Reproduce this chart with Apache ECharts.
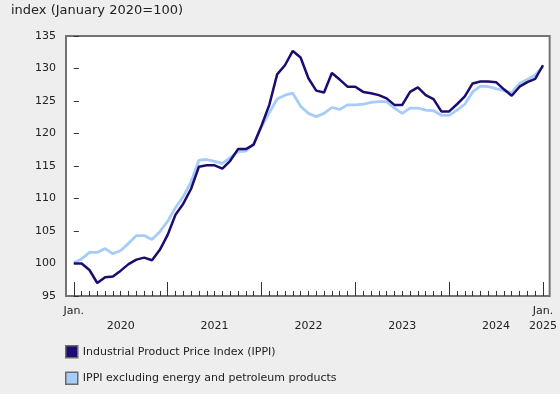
<!DOCTYPE html>
<html>
<head>
<meta charset="utf-8">
<script src="https://cdn.jsdelivr.net/npm/echarts@6/dist/echarts.min.js"></script>
<style>
  html, body { margin: 0; padding: 0; background: #eeeeee; }
  #chart { width: 560px; height: 394px; }
</style>
</head>
<body>
<div id="chart"></div>
<script>
// Monthly, January 2020 to January 2025 (index 0 = Jan. 2020)
const seriesNames = ['Industrial Product Price Index (IPPI)', 'IPPI excluding energy and petroleum products'];

const ippi = [
  100.0, 100.0, 99.0, 97.0, 97.9, 98.0, 98.9, 99.9, 100.6, 100.9, 100.5, 102.1,
  104.4, 107.5, 109.2, 111.5, 114.9, 115.1, 115.1, 114.6, 115.8, 117.6, 117.6, 118.3,
  121.2, 124.4, 129.1, 130.5, 132.7, 131.7, 128.5, 126.6, 126.3, 129.3, 128.3, 127.2,
  127.2, 126.4, 126.2, 125.9, 125.4, 124.4, 124.4, 126.4, 127.1, 125.9, 125.3, 123.4,
  123.4, 124.5, 125.7, 127.7, 128.0, 128.0, 127.9, 126.8, 125.8, 127.2, 127.9, 128.4,
  130.5
];

const ippiExEnergy = [
  100.1, 100.7, 101.7, 101.7, 102.3, 101.5, 102.0, 103.1, 104.3, 104.3, 103.7, 104.9,
  106.5, 108.6, 110.3, 112.6, 115.9, 116.0, 115.7, 115.4, 116.3, 117.2, 117.3, 118.4,
  121.0, 123.2, 125.3, 125.9, 126.2, 124.2, 123.1, 122.6, 123.1, 124.0, 123.7, 124.4,
  124.4, 124.5, 124.8, 124.9, 124.9, 123.9, 123.1, 123.9, 123.9, 123.6, 123.5, 122.8,
  122.8, 123.6, 124.5, 126.4, 127.3, 127.2, 126.9, 126.6, 126.3, 127.7, 128.3, 129.0,
  130.3
];

// tick labels
const yearLabels = ['2020', '2021', '2022', '2023', '2024', '2025'];
const yearLabelPos = [6, 18, 30, 42, 54, 60];
const janTickPos = [0, 12, 24, 36, 48, 60];
const janLabelPos = [0, 60];
const monthTickPos = Array.from({length: ippi.length}, (_, i) => i);

const chart = echarts.init(document.getElementById('chart'), null, {renderer: 'canvas'});
const FONT = 'DejaVu Sans';

const option = {
  backgroundColor: '#eeeeee',
  animation: false,
  textStyle: { fontFamily: FONT },
  title: {
    text: 'index (January 2020=100)',
    left: 11, top: 4, padding: 0,
    textStyle: { fontFamily: FONT, fontSize: 13, fontWeight: 'normal', color: '#222' }
  },
  grid: {
    left: 66, top: 36, right: 10, bottom: 98,
    show: true, backgroundColor: '#ffffff', borderColor: '#737373', borderWidth: 2
  },
  legend: {
    orient: 'vertical', left: 65, top: 345, itemGap: 13, padding: 0,
    itemWidth: 12, itemHeight: 12, icon: 'rect',
    itemStyle: { borderColor: '#6a6a6a', borderWidth: 1.5 },
    textStyle: { fontFamily: FONT, fontSize: 11, color: '#222' },
    data: seriesNames
  },
  xAxis: [
    {
      type: 'value', min: -1, max: 60.85,
      axisLine: { show: false },
      splitLine: { show: false },
      axisTick: { show: true, inside: true, length: 14, customValues: janTickPos,
                  lineStyle: { color: '#333', width: 1 } },
      axisLabel: { show: true, customValues: yearLabelPos, margin: 25,
                   fontFamily: FONT, fontSize: 11, color: '#222',
                   formatter: v => yearLabels[yearLabelPos.indexOf(Math.round(v))] || '' }
    },
    {
      type: 'value', min: -1, max: 60.85, position: 'bottom',
      axisLine: { show: false },
      splitLine: { show: false },
      axisTick: { show: true, inside: true, length: 5, customValues: monthTickPos,
                  lineStyle: { color: '#333', width: 1 } },
      axisLabel: { show: true, customValues: janLabelPos, margin: 10,
                   fontFamily: FONT, fontSize: 11, color: '#222',
                   formatter: () => 'Jan.' }
    }
  ],
  yAxis: {
    type: 'value', min: 95, max: 135, interval: 5,
    axisLine: { show: false },
    splitLine: { show: false },
    axisTick: { show: true, inside: true, length: 5, lineStyle: { color: '#333', width: 1 } },
    axisLabel: { margin: 10, fontFamily: FONT, fontSize: 11, color: '#222' }
  },
  series: [
    {
      name: seriesNames[1], type: 'line', xAxisIndex: 0,
      data: ippiExEnergy.map((v, i) => [i, v]),
      showSymbol: false, color: '#a6cdf7',
      lineStyle: { width: 2.8, color: '#a6cdf7' }
    },
    {
      name: seriesNames[0], type: 'line', xAxisIndex: 0,
      data: ippi.map((v, i) => [i, v]),
      showSymbol: false, color: '#1c0b70',
      lineStyle: { width: 2.5, color: '#1c0b70' }
    }
  ]
};
chart.setOption(option);
</script>
</body>
</html>
